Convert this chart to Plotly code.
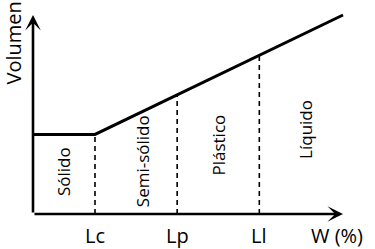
import plotly.graph_objects as go

# Data (arbitrary units: W from 0 to 100, Volumen from 0 to 100)
limit_names = ["Lc", "Lp", "Ll"]
limit_w = [20, 46.5, 73]
curve_w = [0, 20, 100]
curve_v = [40, 40, 100]
state_names = ["Sólido", "Semi-sólido", "Plástico", "Líquido"]
state_w = [9.7, 35.2, 60.0, 87.7]
state_v = [21.1, 26.6, 34.4, 42.7]
x_title = "W (%)"
y_title = "Volumen"
axis_max_w = 100
axis_max_v = 100

FONT = "Open Sans, Lato, sans-serif"


def curve_at(w):
    # linear
    for i in range(len(curve_w) - 1):
        if curve_w[i] <= w <= curve_w[i + 1]:
            t = (w - curve_w[i]) / (curve_w[i + 1] - curve_w[i])
            return curve_v[i] + t * (curve_v[i + 1] - curve_v[i])
    return curve_v[-1]


fig = go.Figure()

# dashed limit lines
for w in limit_w:
    fig.add_trace(go.Scatter(x=[w, w], y=[0, curve_at(w)], mode="lines",
                             line=dict(color="black", width=1.6, dash="5px,4px"),
                             hoverinfo="skip", showlegend=False))

# volume curve
fig.add_trace(go.Scatter(x=curve_w, y=curve_v, mode="lines",
                         line=dict(color="black", width=3),
                         hoverinfo="skip", showlegend=False))

annotations = []
# axes arrows
annotations.append(dict(x=axis_max_w, y=0, ax=0, ay=0, xref="x", yref="y",
                        axref="x", ayref="y", text="", showarrow=True,
                        arrowhead=3, arrowsize=1, arrowwidth=2.6, arrowcolor="black",
                        standoff=0))
annotations.append(dict(x=0, y=axis_max_v, ax=0, ay=0, xref="x", yref="y",
                        axref="x", ayref="y", text="", showarrow=True,
                        arrowhead=3, arrowsize=1, arrowwidth=2.6, arrowcolor="black",
                        standoff=0))

# limit labels
for name, w in zip(limit_names, limit_w):
    annotations.append(dict(x=w, y=-11, xref="x", yref="y", text=name,
                            showarrow=False, font=dict(family=FONT, size=20, color="black"),
                            xanchor="center", yanchor="middle"))
annotations.append(dict(x=98, y=-11, xref="x", yref="y", text=x_title,
                        showarrow=False, font=dict(family=FONT, size=20, color="black"),
                        xanchor="center", yanchor="middle"))
annotations.append(dict(x=-6.45, y=85.7, xref="x", yref="y", text=y_title,
                        textangle=-90, showarrow=False,
                        font=dict(family=FONT, size=20, color="black"),
                        xanchor="center", yanchor="middle"))

# state labels
for name, w, v in zip(state_names, state_w, state_v):
    annotations.append(dict(x=w, y=v, xref="x", yref="y", text=name,
                            textangle=-90, showarrow=False,
                            font=dict(family=FONT, size=17, color="black"),
                            xanchor="center", yanchor="middle"))

fig.update_layout(
    width=375, height=249,
    margin=dict(l=0, r=0, t=0, b=0),
    paper_bgcolor="white", plot_bgcolor="white",
    xaxis=dict(range=[-10.645, 110.32], visible=False, fixedrange=True),
    yaxis=dict(range=[-17.59, 107.54], visible=False, fixedrange=True),
    annotations=annotations,
    showlegend=False,
)

fig.write_html("out.html", config={"displayModeBar": False})
